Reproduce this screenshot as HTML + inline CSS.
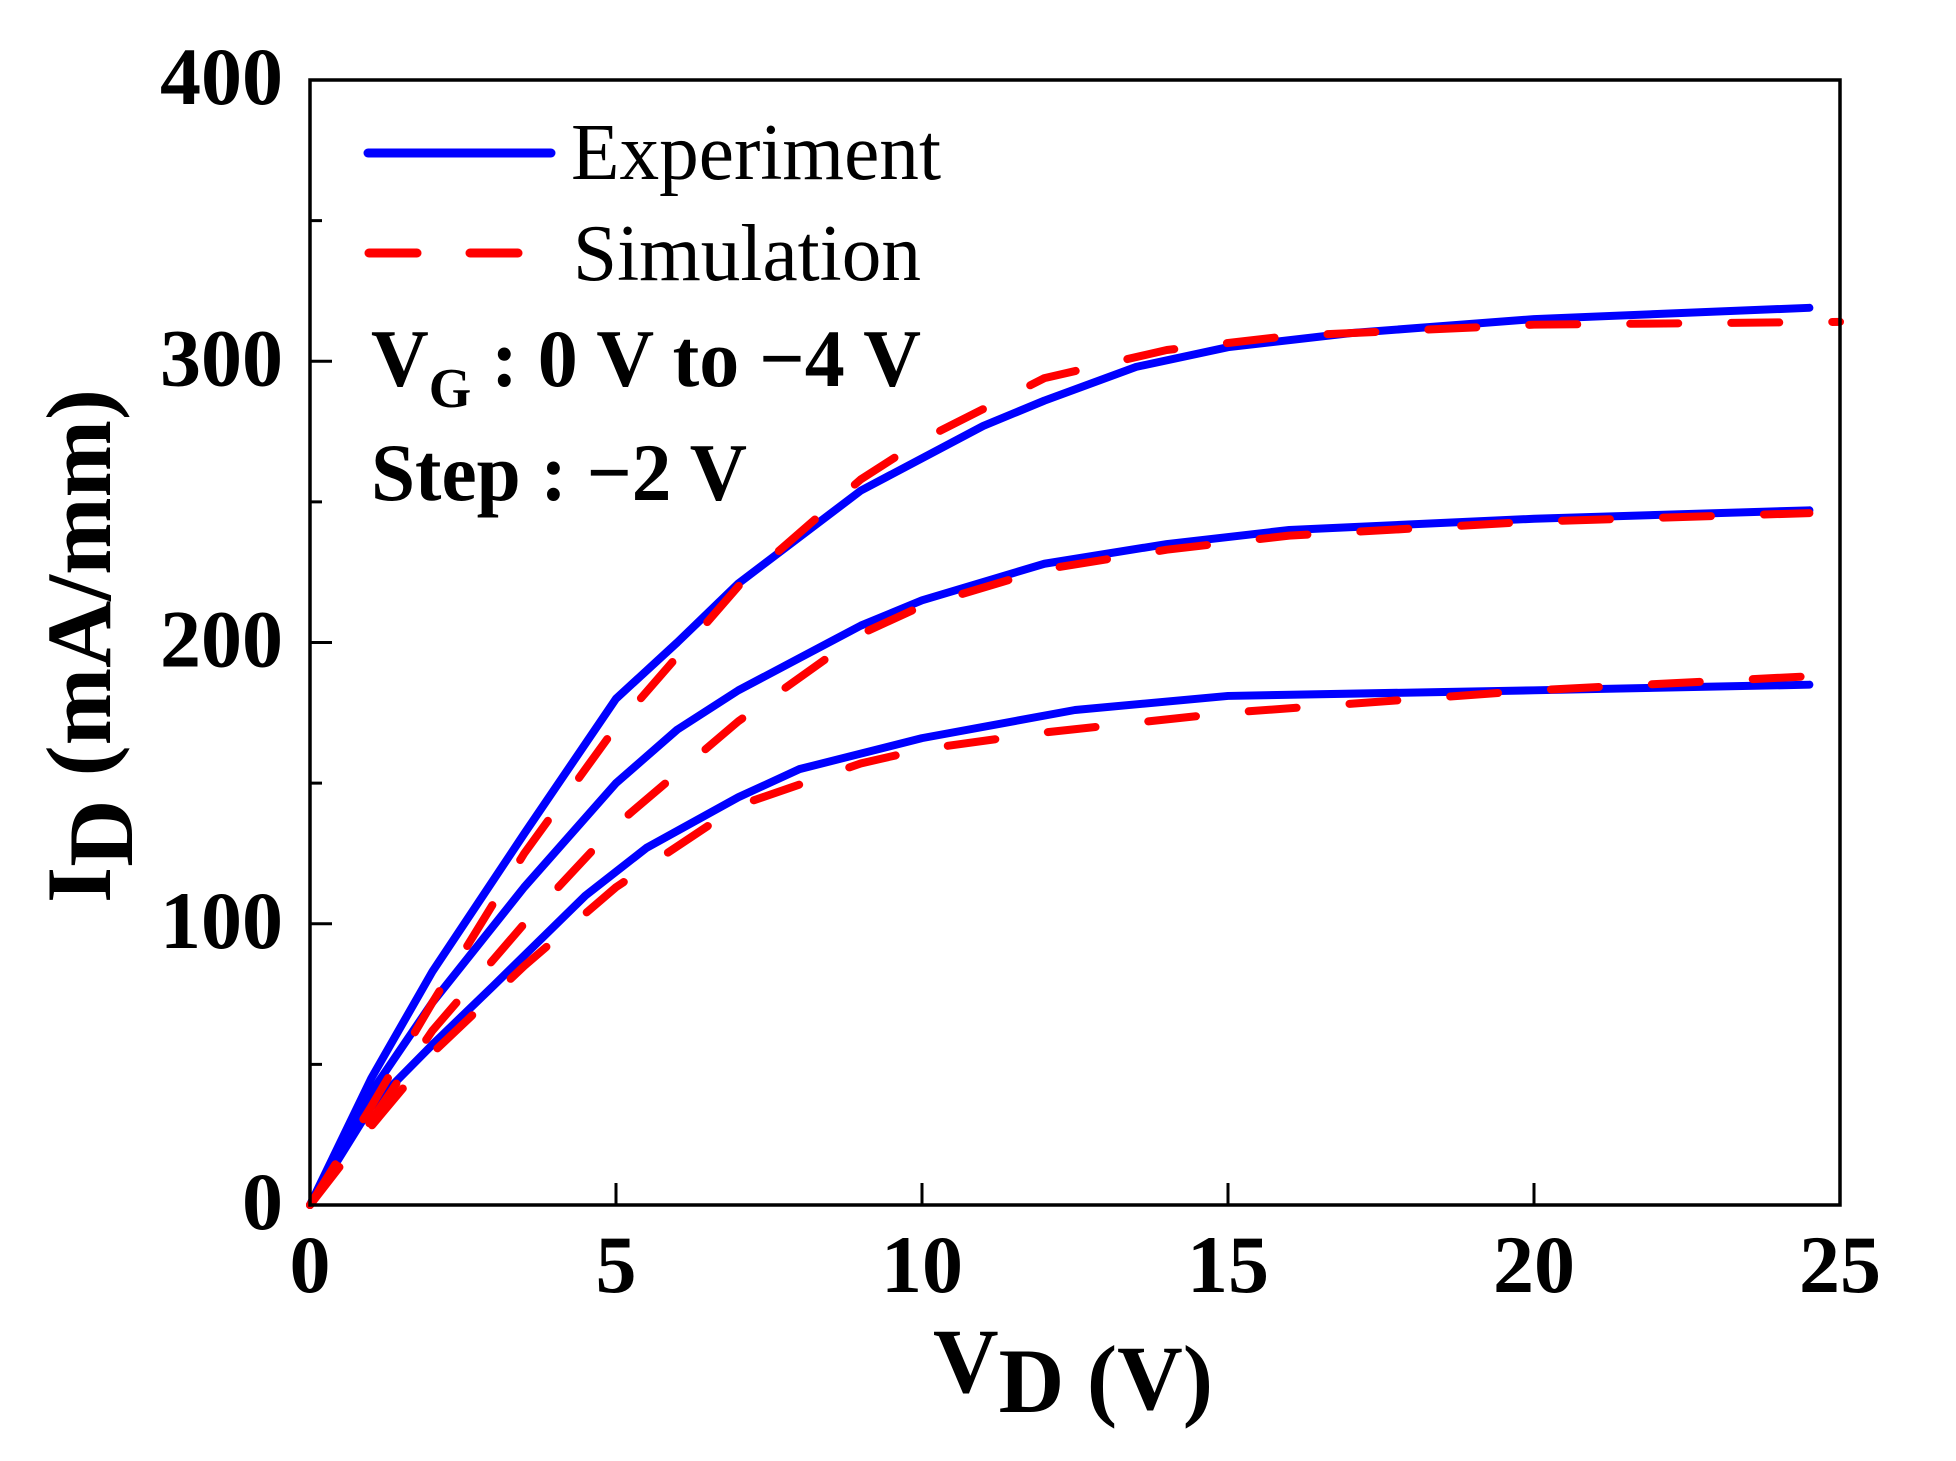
<!DOCTYPE html>
<html><head><meta charset="utf-8"><style>
html,body{margin:0;padding:0;background:#fff}
svg{display:block}
text{font-family:"Liberation Serif","Times New Roman",serif}
</style></head><body>
<svg id="chart" width="1956" height="1461" viewBox="0 0 1956 1461" xmlns="http://www.w3.org/2000/svg">
<g id="plot"></g>
<g id="axes"></g>
<rect x="310" y="80" width="1530" height="1125" fill="none" stroke="#000" stroke-width="3.5"/>
<g>
  <line x1="368" y1="153" x2="551" y2="153" stroke="#0000ff" stroke-width="9" stroke-linecap="round"/>
  <text x="571" y="179" font-size="80" textLength="370" lengthAdjust="spacingAndGlyphs">Experiment</text>
  <line x1="369" y1="253" x2="521" y2="253" stroke="#ff0000" stroke-width="9" stroke-linecap="round" stroke-dasharray="48 53"/>
  <text x="573" y="280" font-size="80" textLength="348" lengthAdjust="spacingAndGlyphs">Simulation</text>
</g>
<text x="371" y="386" font-size="82" font-weight="bold" textLength="550" lengthAdjust="spacingAndGlyphs">V<tspan font-size="56" dy="21">G</tspan><tspan dy="-21"> : 0 V to −4 V</tspan></text>
<text x="371" y="500" font-size="82" font-weight="bold" textLength="376" lengthAdjust="spacingAndGlyphs">Step : −2 V</text>
<text x="933" y="1392" font-size="92" font-weight="bold" textLength="280" lengthAdjust="spacingAndGlyphs">V<tspan dy="20">D</tspan><tspan dy="-3"> (V)</tspan></text>
<text transform="translate(110,903) rotate(-90)" x="0" y="0" font-size="92" font-weight="bold" textLength="514" lengthAdjust="spacingAndGlyphs">I<tspan dy="22">D</tspan><tspan dy="-22"> (mA/mm)</tspan></text>
</svg>
<script>
const xTicks = [0, 5, 10, 15, 20, 25];
const yTicks = [0, 100, 200, 300, 400];
const yMinor = [50, 150, 250, 350];
const exp1x = [0, 1, 2, 3.5, 5, 6, 7, 9, 11, 12, 13.5, 15, 17, 20, 24.5];
const exp1y = [0, 45, 83, 132, 180, 200, 221, 254, 277, 286, 298, 305, 310, 315, 319];
const sim1x = [0, 1, 2, 3.5, 5, 7, 9, 10, 12, 14, 16, 20, 25];
const sim1y = [0, 35, 72, 125, 170, 220, 258, 272, 294, 304, 309, 313, 314];
const exp2x = [0, 1, 2, 3.5, 5, 6, 7, 9, 10, 12, 14, 16, 20, 24.5];
const exp2y = [0, 40, 72, 113, 150, 169, 183, 206, 215, 228, 235, 240, 244, 247];
const sim2x = [0, 1, 2, 3.5, 5, 7, 9, 10, 12, 14, 16, 20, 24.5];
const sim2y = [0, 30, 62, 100, 135, 172, 203, 213, 226, 233, 238, 243, 246];
const exp3x = [0, 1, 2, 3, 4.5, 5.5, 7, 8, 10, 12.5, 15, 20, 24.5];
const exp3y = [0, 35, 57, 78, 110, 127, 145, 155, 166, 176, 181, 183, 185];
const sim3x = [0, 1, 2, 3.5, 5, 7, 9, 10, 12, 15, 20, 24.5];
const sim3y = [0, 28, 54, 85, 113, 142, 157, 162, 168, 175, 183, 188];

const X0 = 310, X1 = 1840, Y0 = 1205, Y1 = 80;
function sx(v){ return X0 + (v - 0) / 25 * (X1 - X0); }
function sy(v){ return Y0 - (v - 0) / 400 * (Y0 - Y1); }
const NS = 'http://www.w3.org/2000/svg';
const plot = document.getElementById('plot');
const axes = document.getElementById('axes');

function drawLine(xs, ys, name, dashed){
  const p = document.createElementNS(NS, 'polyline');
  p.setAttribute('points', xs.map((x, i) => sx(x) + ',' + sy(ys[i])).join(' '));
  p.setAttribute('fill', 'none');
  p.setAttribute('stroke', dashed ? '#ff0000' : '#0000ff');
  p.setAttribute('stroke-width', '8');
  p.setAttribute('stroke-linejoin', 'round');
  p.setAttribute('stroke-linecap', 'round');
  if (dashed) p.setAttribute('stroke-dasharray', '48 53');
  
  
  plot.appendChild(p);
}
drawLine(exp1x, exp1y, 'experiment-curve-vg0', false);
drawLine(exp2x, exp2y, 'experiment-curve-vg-2', false);
drawLine(exp3x, exp3y, 'experiment-curve-vg-4', false);
drawLine(sim1x, sim1y, 'simulation-curve-vg0', true);
drawLine(sim2x, sim2y, 'simulation-curve-vg-2', true);
drawLine(sim3x, sim3y, 'simulation-curve-vg-4', true);

function tick(x1, y1, x2, y2, name){
  const l = document.createElementNS(NS, 'line');
  l.setAttribute('x1', x1); l.setAttribute('y1', y1);
  l.setAttribute('x2', x2); l.setAttribute('y2', y2);
  l.setAttribute('stroke', '#000'); l.setAttribute('stroke-width', '3');
  
  
  axes.appendChild(l);
}
function label(x, y, s, anchor, name){
  const t = document.createElementNS(NS, 'text');
  t.setAttribute('x', x); t.setAttribute('y', y);
  t.setAttribute('font-size', '82'); t.setAttribute('font-weight', 'bold');
  t.setAttribute('text-anchor', anchor);
  t.textContent = s;
  
  
  axes.appendChild(t);
}
xTicks.forEach(v => {
  tick(sx(v), Y0, sx(v), Y0 - 22, 'x-tick');
  label(sx(v), 1292, String(v), 'middle', 'x-tick-label');
});
yTicks.forEach(v => {
  tick(X0, sy(v), X0 + 22, sy(v), 'y-tick');
  label(283, sy(v) + 24, String(v), 'end', 'y-tick-label');
});
yMinor.forEach(v => {
  tick(X0, sy(v), X0 + 12, sy(v), 'y-minor-tick');
});
</script>
</body></html>
